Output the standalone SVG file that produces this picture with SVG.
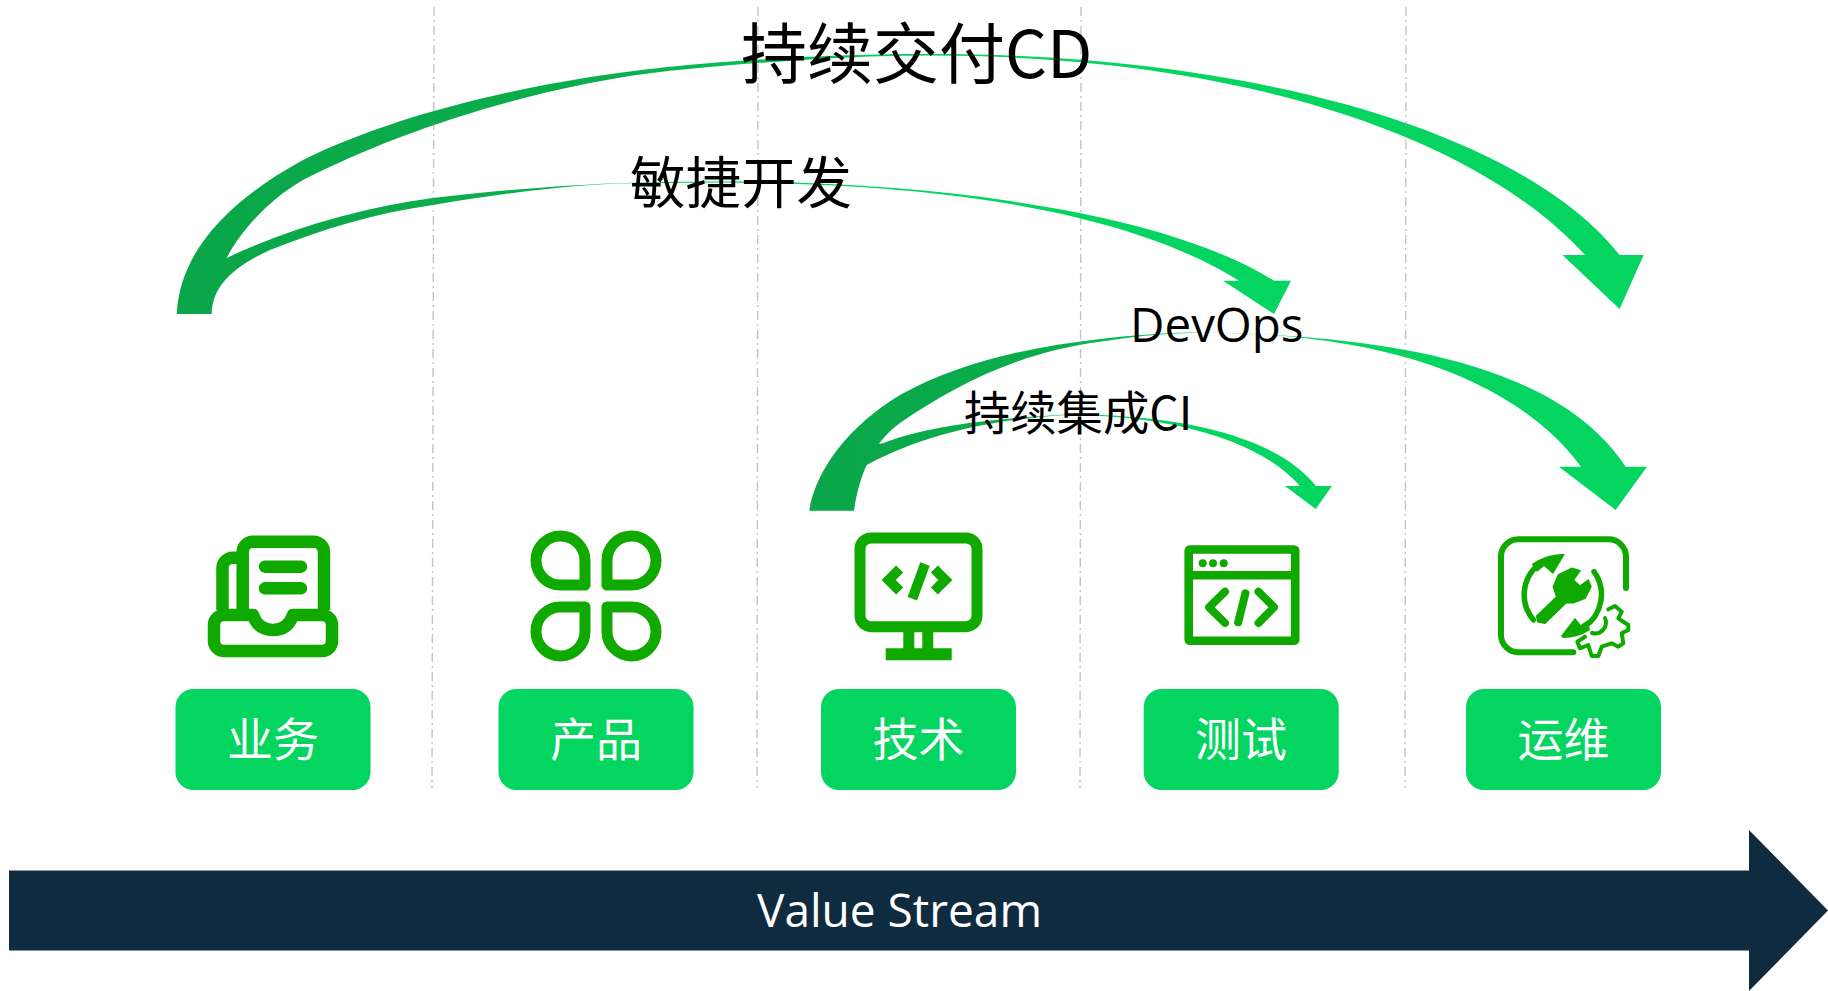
<svg xmlns="http://www.w3.org/2000/svg" width="1828" height="991" viewBox="0 0 1828 991">
<style>
.lbl{font-family:"Noto Sans CJK SC","Noto Sans",sans-serif;font-size:46px;fill:#fff;text-anchor:middle;font-weight:400}
.cap{font-family:"Noto Sans CJK SC","Open Sans",sans-serif;fill:#000}
.lat{font-family:"Open Sans","Noto Sans",sans-serif}
.vs{fill:#fff;font-size:46px}
.box{fill:#03d560}
.sep{stroke:#8a8a8a;stroke-opacity:.5;stroke-width:1.4;stroke-dasharray:9 4 2 4;fill:none}
.ic{fill:none;stroke:#10a900;stroke-linejoin:round}
.if{fill:#10a900;stroke:none}
</style>
<defs>
<linearGradient id="arc" x1="0" y1="0" x2="1" y2="0">
<stop offset="0" stop-color="#0aa649"/><stop offset=".3" stop-color="#0aae4c"/><stop offset=".52" stop-color="#03d560"/>
</linearGradient>
</defs>
<g id="value-stream">
<path fill="#0f2b40" d="M9,870.5H1749V830L1828,910.5L1749,991V950.5H9Z"/>
<text class="lat vs" x="757" y="927">Value Stream</text>
</g>
<g id="connectors">
<path id="arc-agile" fill="url(#arc)" d="M195,300L226.7,258C290,228 360,208 433,198C500,190 570,184.5 633,182.7C665,181.8 695,181.5 720,181.5C950,181.5 1170,215 1274,280.7H1291L1274,314L1223,280.7H1239C1145,222 980,183 720,182.5C695,182.5 665,183 633,183.2C570,184 500,194 433,205C375,213 320,230 270,250C235,266 212,285 211.7,314H195Z"/>
<path id="arc-cd" fill="url(#arc)" d="M176.7,314C180,250 230,200 303,160C400,112 540,80 670,66.7C760,58 850,54 930,54C1250,54 1520,130 1619.6,255H1643.6L1619.6,309L1562.5,255H1585C1480,140 1250,56 930,55.5C850,55.5 760,62 670,70.7C540,85 400,130 303,180C268,200 240,232 226.7,258C218,282 210,300 208,314Z"/>
<path id="arc-ci" fill="url(#arc)" d="M845,480L870,445L883,443.3C915,431 965,420 1066.7,414.5C1190,414 1280,440 1316,486H1332L1315.7,509L1285,486H1300C1260,440 1170,415 1066.7,415C1000,419 930,431 866.7,465Z"/>
<path id="arc-devops" fill="url(#arc)" d="M809.3,510.7C815,470 850,425 900,395C960,362 1030,347 1100,339C1130,335.5 1160,333 1190,332.5C1420,334 1565,375 1625.6,466.7H1647L1615.6,510L1559,466.7H1581C1515,378 1380,330 1190,333C1160,333.5 1130,337 1100,341.7C1020,352 955,385 900,423C875,441 860,470 854,510.7Z"/>
</g>
<g id="separators">
<path class="sep" d="M434,7L432,788"/>
<path class="sep" d="M758,7L757,788"/>
<path class="sep" d="M1081,7L1080,788"/>
<path class="sep" d="M1406,7L1405,788"/>
</g>
<g id="label-cd"><text class="cap" x="741" y="78" font-size="66">持续交付CD</text></g>
<g id="label-agile"><text class="cap" x="630" y="203" font-size="55.5">敏捷开发</text></g>
<g id="label-devops"><text class="cap lat" x="1130" y="342" font-size="47.5">DevOps</text></g>
<g id="label-ci"><text class="cap" x="964" y="430" font-size="46.3">持续集成CI</text></g>
<g id="node-business">
<g class="ic" stroke-width="12.5">
<path d="M242.7,610V552A10.5,10.5 0 0 1 253,541.7H314A10.5,10.5 0 0 1 324,552V610"/>
<path d="M242.7,557.7H233A10.5,10.5 0 0 0 222.5,568V610"/>
<path d="M253,615H224A10,10 0 0 0 214,625V641A10,10 0 0 0 224,651H322A10,10 0 0 0 332,641V625A10,10 0 0 0 322,615H293Q288,630 273,630Q258,630 253,615Z"/>
<path stroke-linecap="round" d="M265,566.7H301M265,588.3H301"/>
</g>
<rect class="box" x="175.5" y="689" width="195" height="101" rx="18"/>
<text class="lbl" x="273" y="756">业务</text>
</g>
<g id="node-product">
<g class="ic" stroke-width="11">
<path d="M585,585H560.5A24.5,24.5 0 1 1 585,561Z"/>
<path d="M607,585H631.5A24.5,24.5 0 1 0 607,561Z"/>
<path d="M585,607H560.5A24.5,24.5 0 1 0 585,631Z"/>
<path d="M607,607H631.5A24.5,24.5 0 1 1 607,631Z"/>
</g>
<rect class="box" x="498.5" y="689" width="195" height="101" rx="18"/>
<text class="lbl" x="596" y="756">产品</text>
</g>
<g id="node-tech">
<rect class="ic" stroke-width="11" x="860" y="538" width="117" height="88.7" rx="11"/>
<path class="if" d="M903.3,632H914.3V648.3H922.3V632H933.3V648.3H951.7V660.3H885.7V648.3H903.3Z"/>
<path fill="none" stroke="#10a900" stroke-width="10" d="M899.7,569L888.7,580L899.7,591M934.3,569L945.3,580L934.3,591M925,564L912.3,598.7"/>
<rect class="box" x="821" y="689" width="195" height="101" rx="18"/>
<text class="lbl" x="918.5" y="756">技术</text>
</g>
<g id="node-test">
<rect class="ic" stroke-width="8.6" x="1188.7" y="549.5" width="106.5" height="91.3" rx="1"/>
<path class="ic" stroke-width="8.4" d="M1188.7,575.2H1295.2"/>
<circle class="if" cx="1202.7" cy="563.3" r="4"/><circle class="if" cx="1213" cy="563.3" r="4"/><circle class="if" cx="1223.7" cy="563.3" r="4"/>
<path class="ic" stroke-width="8" stroke-linecap="round" d="M1225,591.7L1209,607.3L1225,623M1258.5,591.7L1274,607.3L1258.5,623M1245.4,593.3L1238.2,622.3"/>
<rect class="box" x="1143.7" y="689" width="195" height="101" rx="18"/>
<text class="lbl" x="1241" y="756">测试</text>
</g>
<g id="node-ops">
<path class="ic" stroke-width="6" stroke-linecap="round" d="M1626,588V556.7A17.4,17.4 0 0 0 1608.3,539.3H1518.3A17.4,17.4 0 0 0 1501,556.7V635A17.4,17.4 0 0 0 1518.3,652.3H1573.3"/>
<path class="ic" stroke-width="5.5" stroke-linecap="round" d="M1533.5,620A39,39 0 0 1 1538,565M1594,571.7A39,39 0 0 1 1584,627"/>
<path class="if" d="M1531.7,564Q1548,553 1565,554L1553,574L1544,566L1537,572ZM1561,636L1575,617.7L1580.7,625L1588,620L1590,630Q1578,638 1563,638Z"/>
<path fill="#10a900" stroke="#10a900" stroke-width="1.5" stroke-linejoin="round" d="M1536.7,616L1556.7,596.7L1553.3,586.7L1558.3,575L1571.7,568.3L1580,570.7L1573.3,580L1580,586L1588.3,580L1591,586.7L1585,598.3L1573.3,602.7L1566,602.7L1545,623.3L1537.7,621.7Z"/>
<path class="ic" stroke-width="4" stroke-linecap="round" d="M1608.3,609.3L1615,606L1621.7,611.7L1618.3,618.3L1628.3,625L1628.3,630L1621.7,633.3L1623.3,643.3L1618.3,646.7L1611.7,643.3L1601.7,646.7L1598.3,656L1591.7,656L1588.3,645L1580,648.3L1577.3,641.7L1585,636.7"/>
<path class="ic" stroke-width="4" stroke-linecap="round" d="M1605,618A11,11 0 0 1 1592,633"/>
<rect class="box" x="1466" y="689" width="195" height="101" rx="18"/>
<text class="lbl" x="1563.5" y="756">运维</text>
</g>
</svg>
